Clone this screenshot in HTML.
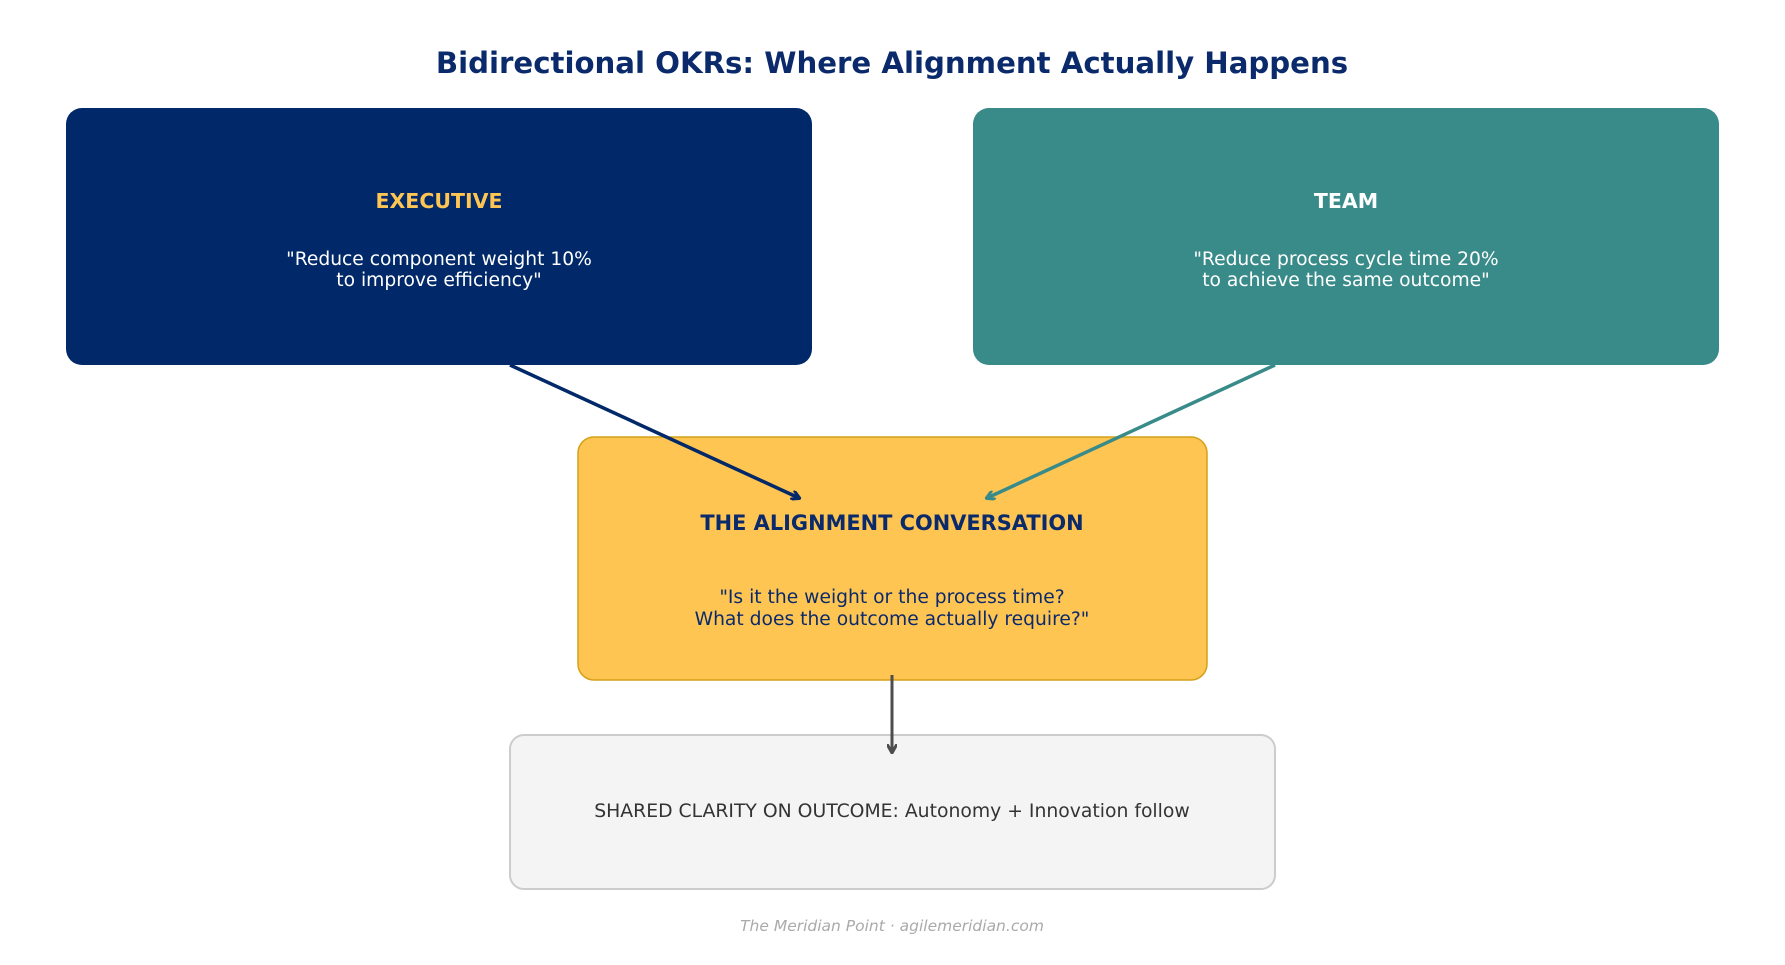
<!DOCTYPE html>
<html><head><style>
body{margin:0;width:1785px;height:960px;background:#fff;overflow:hidden}
svg text{font-family:"DejaVu Sans","Liberation Sans",sans-serif}
</style></head><body>
<svg width="1785" height="960" viewBox="0 0 1785 960">
<defs>
<marker id="an" markerWidth="10" markerHeight="10" refX="8" refY="5" orient="auto" markerUnits="userSpaceOnUse"><path d="M0,0 L9,5 L0,10" fill="none" stroke="#012868" stroke-width="3"/></marker>
<marker id="at" markerWidth="10" markerHeight="10" refX="8" refY="5" orient="auto" markerUnits="userSpaceOnUse"><path d="M0,0 L9,5 L0,10" fill="none" stroke="#388b89" stroke-width="3"/></marker>
<marker id="ag" markerWidth="10" markerHeight="10" refX="8" refY="5" orient="auto" markerUnits="userSpaceOnUse"><path d="M0,0 L9,5 L0,10" fill="none" stroke="#4d4d4d" stroke-width="3"/></marker>
</defs>
<text x="892" y="73" text-anchor="middle" font-size="29.2" font-weight="bold" fill="#0a2a6b">Bidirectional OKRs: Where Alignment Actually Happens</text>
<rect x="66" y="108" width="746" height="257" rx="16" fill="#012868"/>
<rect x="973" y="108" width="746" height="257" rx="16" fill="#388b89"/>
<text x="439" y="208" text-anchor="middle" font-size="20.5" font-weight="bold" fill="#ffc553">EXECUTIVE</text>
<text x="439" y="265" text-anchor="middle" font-size="18.7" fill="#fff">"Reduce component weight 10%</text>
<text x="439" y="286" text-anchor="middle" font-size="18.7" fill="#fff">to improve efficiency"</text>
<text x="1346" y="208" text-anchor="middle" font-size="20.5" font-weight="bold" fill="#fff">TEAM</text>
<text x="1346" y="265" text-anchor="middle" font-size="18.7" fill="#fff">"Reduce process cycle time 20%</text>
<text x="1346" y="286" text-anchor="middle" font-size="18.7" fill="#fff">to achieve the same outcome"</text>
<rect x="578" y="437" width="629" height="243" rx="16" fill="#ffc553" stroke="#d4a017" stroke-width="1.5"/>
<text x="892" y="530" text-anchor="middle" font-size="20.9" font-weight="bold" fill="#0a2a6b">THE ALIGNMENT CONVERSATION</text>
<text x="892" y="603" text-anchor="middle" font-size="18.7" fill="#0a2a6b">"Is it the weight or the process time?</text>
<text x="892" y="625" text-anchor="middle" font-size="18.7" fill="#0a2a6b">What does the outcome actually require?"</text>
<line x1="510" y1="365" x2="799" y2="498" stroke="#012868" stroke-width="3.5" marker-end="url(#an)"/>
<line x1="1275" y1="365" x2="987" y2="498" stroke="#388b89" stroke-width="3.5" marker-end="url(#at)"/>
<rect x="510" y="735" width="765" height="154" rx="14" fill="#f4f4f4" stroke="#cccccc" stroke-width="2"/>
<line x1="892" y1="675" x2="892" y2="752" stroke="#4d4d4d" stroke-width="3" marker-end="url(#ag)"/>
<text x="892" y="817" text-anchor="middle" font-size="18.8" fill="#333">SHARED CLARITY ON OUTCOME: Autonomy + Innovation follow</text>
<text x="892" y="931" text-anchor="middle" font-size="15.5" font-style="italic" fill="#aaaaaa">The Meridian Point · agilemeridian.com</text>
</svg>
</body></html>
